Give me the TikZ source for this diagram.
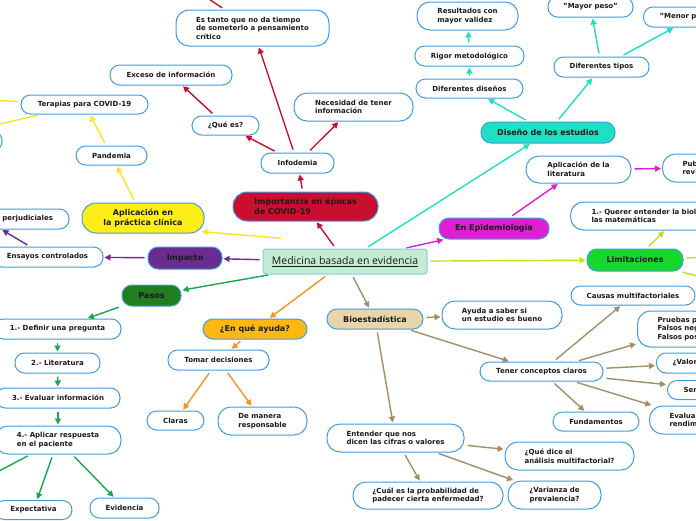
\documentclass[tikz,border=0pt]{standalone}
\usepackage{fontspec}
\setmainfont{DejaVu Sans}
\newfontfamily\medfont{Open Sans}
\usetikzlibrary{arrows.meta}

\definecolor{nodeblue}{RGB}{64,156,228}
\definecolor{crim}{RGB}{200,16,46}
\definecolor{yel}{RGB}{255,238,22}
\definecolor{yelline}{RGB}{255,228,30}
\definecolor{pur}{RGB}{107,44,145}
\definecolor{grnfill}{RGB}{32,125,32}
\definecolor{grnline}{RGB}{22,168,80}
\definecolor{orafill}{RGB}{253,184,19}
\definecolor{oraline}{RGB}{247,148,29}
\definecolor{brnfill}{RGB}{232,214,170}
\definecolor{brnline}{RGB}{164,142,100}
\definecolor{limfill}{RGB}{22,216,44}
\definecolor{limline}{RGB}{190,226,30}
\definecolor{mag}{RGB}{222,30,210}
\definecolor{tur}{RGB}{30,224,194}
\definecolor{medfill}{RGB}{196,236,210}
\definecolor{medline}{RGB}{140,200,232}
\definecolor{txt}{RGB}{26,26,26}

\begin{document}
\begin{tikzpicture}[x=1pt, y=-1pt,
    >={Triangle[length=6pt,width=6pt]},
    wh/.style 2 args={minimum width=#1, minimum height=#2},
    sub/.style={draw=nodeblue, line width=1pt, fill=white, rounded corners=9.5pt,
        text=txt, font=\bfseries\fontsize{7}{8.6}\selectfont,
        inner xsep=4pt, inner ysep=2pt, align=left},
    tall/.style={rounded corners=13pt},
    topic/.style={draw=nodeblue, line width=1pt, rounded corners=10pt,
        text=txt, font=\bfseries\fontsize{8}{9.6}\selectfont, align=left},
    link/.style={line width=1.4pt, ->, shorten <=3pt, shorten >=1pt}]

    \useasboundingbox (0,0) rectangle (696,520);
    \clip (0,0) rectangle (696,520);
    \fill[white] (0,0) rectangle (696,520);

    % centre
    \node[draw=medline, fill=medfill, line width=1pt, rounded corners=3pt, wh={164}{25},
        font=\medfont\fontsize{10.5}{12}\selectfont, text=txt]
        (med) at (345,261.5) {\underline{Medicina basada en evidencia}};

    % importancia
    \node[topic, fill=crim, wh={145}{29}, rounded corners=14pt] (imp) at (305.5,206.5) {Importancia en épocas\\de COVID-19};
    \node[sub, wh={73}{20}] (info) at (297.5,163) {Infodemia};
    \node[sub, wh={67}{19}] (ques) at (225.5,125.5) {¿Qué es?};
    \node[sub, wh={122}{20}] (exc) at (171,75) {Exceso de información};
    \node[sub, tall, wh={153}{36}] (tanto) at (252.5,28) {Es tanto que no da tiempo\\de someterlo a pensamiento\\crítico};
    \node[sub, tall, wh={119}{28}] (nec) at (353.5,107) {Necesidad de tener\\información};
    \coordinate (tantoup) at (150,-40);

    % aplicacion
    \node[topic, fill=yel, wh={122}{30}, rounded corners=14pt, align=center] (apl) at (143,218) {Aplicación en\\la práctica clínica};
    \node[sub, wh={71}{19}] (pan) at (111.5,155.5) {Pandemia};
    \node[sub, wh={127}{19}] (ter) at (84.5,104.5) {Terapias para COVID-19};
    \node[sub, wh={94}{20}] (terb) at (-45,141) {};
    \coordinate (tera) at (-60,98);
    \coordinate (terc) at (-100,147);

    % impacto
    \node[topic, fill=pur, wh={74}{22}] (impc) at (185,258) {Impacto};
    \node[sub, wh={111}{20}] (ens) at (47.5,257) {Ensayos controlados};
    \node[sub, wh={170}{20}, text width=138pt, inner xsep=16pt, align=right] (perj) at (-16,219) {perjudiciales};

    % pasos
    \node[topic, fill=grnfill, wh={59}{21}] (pas) at (151.5,295.5) {Pasos};
    \node[sub, wh={127}{20}] (def) at (57.5,329) {1.- Definir una pregunta};
    \node[sub, wh={85}{20}] (lit) at (57.5,363) {2.- Literatura};
    \node[sub, wh={124}{20}] (eva) at (58,398) {3.- Evaluar información};
    \node[sub, tall, wh={126}{28}] (apr) at (58,440) {4.- Aplicar respuesta\\en el paciente};
    \node[sub, wh={77}{19}] (expc) at (33.5,510) {Expectativa};
    \node[sub, wh={69}{20}] (evi) at (124.5,508) {Evidencia};
    \coordinate (aprc) at (-60,502);

    % en que ayuda
    \node[topic, fill=orafill, wh={104}{20}] (ayu) at (255,329) {¿En qué ayuda?};
    \node[sub, wh={101}{20}] (tom) at (218.5,360) {Tomar decisiones};
    \node[sub, wh={57}{19}] (cla) at (175.5,420.5) {Claras};
    \node[sub, tall, wh={89}{28}] (res) at (262.5,421) {De manera\\responsable};

    % bioestadistica
    \node[topic, fill=brnfill, wh={96}{20}] (bio) at (375,319) {Bioestadística};
    \node[sub, tall, wh={120}{28}] (ayd) at (502,315) {Ayuda a saber si\\un estudio es bueno};
    \node[sub, wh={123}{19}] (ten) at (541.5,371.5) {Tener conceptos claros};
    \node[sub, tall, wh={137}{28}] (ent) at (395.5,438) {Entender que nos\\dicen las cifras o valores};
    \node[sub, tall, wh={150}{27}] (cual) at (428,495.5) {¿Cuál es la probabilidad de\\padecer cierta enfermedad?};
    \node[sub, tall, wh={129}{28}] (qued) at (569.5,456) {¿Qué dice el\\análisis multifactorial?};
    \node[sub, tall, wh={93}{28}, align=center] (var) at (554.5,495) {¿Varianza de\\prevalencia?};
    \node[sub, wh={124}{19}] (cau) at (633,295.5) {Causas multifactoriales};
    \node[sub, wh={86}{19}] (fun) at (596,421.5) {Fundamentos};
    \node[sub, tall, anchor=west, wh={100}{36}, text width=60pt, inner xsep=20pt] (pru) at (637,329) {Pruebas p\\Falsos neg\\Falsos pos};
    \node[sub, anchor=west, wh={100}{20}, text width=68pt, inner xsep=16pt] (val) at (656,363) {¿Valor};
    \node[sub, anchor=west, wh={100}{19}, text width=68pt, inner xsep=16pt] (sen) at (667,390) {Sen};
    \node[sub, tall, anchor=west, wh={100}{28}, text width=60pt, inner xsep=20pt] (evl) at (649,420) {Evalua\\rendim};

    % limitaciones
    \node[topic, fill=limfill, wh={96}{22}] (lim) at (635,260) {Limitaciones};
    \node[sub, tall, anchor=west, wh={218}{28}, text width=176pt, inner xsep=21pt] (que) at (570,216) {1.- Querer entender la biolo\\las matemáticas};
    \coordinate (limr1) at (760,255);
    \coordinate (limr2) at (760,292);

    % epidemiologia
    \node[topic, fill=mag, wh={110}{21}] (epi) at (494,228.5) {En Epidemiología};
    \node[sub, tall, wh={105}{27}] (alit) at (578.5,169.5) {Aplicación de la\\literatura};
    \node[sub, tall, anchor=west, wh={100}{28}, text width=60pt, inner xsep=20pt] (pub) at (662,168) {Pub\\revi};

    % diseno
    \node[topic, fill=tur, wh={134}{21}] (dis) at (548,132.5) {Diseño de los estudios};
    \node[sub, wh={107}{19}] (dd) at (469.5,88.5) {Diferentes diseños};
    \node[sub, wh={109}{20}] (rig) at (469.5,56) {Rigor metodológico};
    \node[sub, tall, wh={101}{28}] (resu) at (467.5,16) {Resultados con\\mayor validez};
    \node[sub, wh={95}{20}] (dt) at (601.5,67) {Diferentes tipos};
    \node[sub, wh={85}{20}] (may) at (590.5,7) {"Mayor peso"};
    \node[sub, anchor=west, wh={100}{20}, text width=68pt, inner xsep=16pt] (men) at (643,17) {"Menor p};

    % connectors
    \draw[link, draw=crim] (med) -- (imp);
    \draw[link, draw=crim] (imp) -- (info);
    \draw[link, draw=crim] (info) -- (ques);
    \draw[link, draw=crim] (info) -- (tanto);
    \draw[link, draw=crim] (info) -- (nec);
    \draw[link, draw=crim] (ques) -- (exc);
    \draw[link, draw=crim] (tanto) -- (tantoup);

    \draw[link, draw=yelline] ([xshift=-61pt,yshift=10pt]med.north) -- ([xshift=-4pt,yshift=2pt]apl.south east);
    \draw[link, draw=yelline] (apl) -- (pan);
    \draw[link, draw=yelline] (pan) -- (ter);
    \draw[link, draw=yelline] (ter) -- (tera);
    \draw[link, draw=yelline] (ter) -- (terc);

    \draw[link, draw=pur] (med) -- (impc);
    \draw[link, draw=pur] (impc) -- (ens);
    \draw[link, draw=pur] (ens) -- (perj);

    \draw[link, draw=grnline] (med) -- (pas);
    \draw[link, draw=grnline] (pas) -- (def);
    \draw[link, draw=grnline] (def) -- (lit);
    \draw[link, draw=grnline] (lit) -- (eva);
    \draw[link, draw=grnline] (eva) -- (apr);
    \draw[link, draw=grnline] (apr) -- (expc);
    \draw[link, draw=grnline] (apr) -- (evi);
    \draw[link, draw=grnline] (apr) -- (aprc);

    \draw[link, draw=oraline] (med) -- (ayu);
    \draw[link, draw=oraline] (ayu) -- (tom);
    \draw[link, draw=oraline] (tom) -- (cla);
    \draw[link, draw=oraline] (tom) -- (res);

    \draw[link, draw=brnline] (med) -- (bio);
    \draw[link, draw=brnline] (bio) -- (ayd);
    \draw[link, draw=brnline] (bio) -- (ten);
    \draw[link, draw=brnline] (bio) -- (ent);
    \draw[link, draw=brnline] (ent) -- (cual);
    \draw[link, draw=brnline] (ent) -- (qued);
    \draw[link, draw=brnline] (ent) -- (var);
    \draw[link, draw=brnline] (ten) -- (cau);
    \draw[link, draw=brnline] (ten) -- (pru);
    \draw[link, draw=brnline] (ten) -- (val);
    \draw[link, draw=brnline] (ten) -- (sen);
    \draw[link, draw=brnline] (ten) -- (evl);
    \draw[link, draw=brnline] (ten) -- (fun);

    \draw[link, draw=limline] (med) -- (lim);
    \draw[link, draw=limline] (lim) -- (que);
    \draw[link, draw=limline] (lim) -- (limr1);
    \draw[link, draw=limline] (lim) -- (limr2);

    \draw[link, draw=mag] (med) -- (epi);
    \draw[link, draw=mag] (epi) -- (alit);
    \draw[link, draw=mag] (alit) -- (pub);

    \draw[link, draw=tur] (med) -- (dis);
    \draw[link, draw=tur] (dis) -- (dd);
    \draw[link, draw=tur] (dd) -- (rig);
    \draw[link, draw=tur] (rig) -- (resu);
    \draw[link, draw=tur] (dis) -- (dt);
    \draw[link, draw=tur] (dt) -- (may);
    \draw[link, draw=tur] (dt) -- (men);

\end{tikzpicture}
\end{document}
